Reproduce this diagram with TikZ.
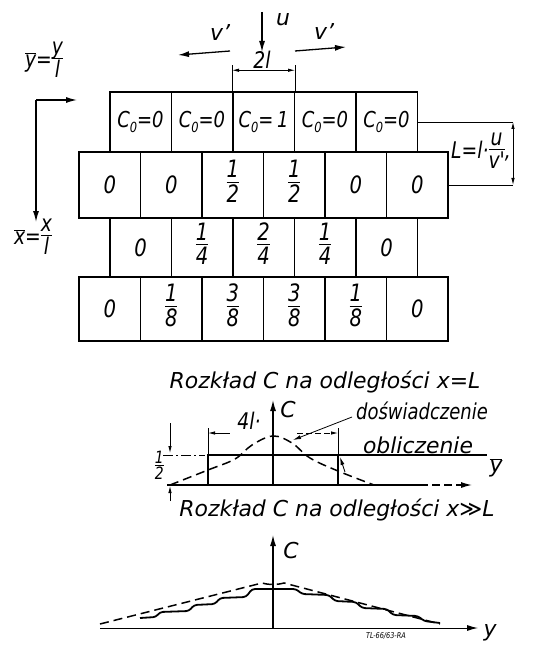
\documentclass[tikz,border=0pt]{standalone}
\usepackage{fontspec}
\setsansfont{DejaVu Sans}[ItalicFont={DejaVu Sans Oblique}]
\newfontfamily\nf{DejaVu Sans}[FakeStretch=0.82, ItalicFont={DejaVu Sans Oblique}]
\usetikzlibrary{arrows.meta}
\newcommand\fr[2]{\begin{tabular}{@{}c@{}}#1\\[-4bp]\hline\noalign{\vskip 1.5bp}#2\end{tabular}}
\newcommand\ob[1]{$\overline{\hbox{#1}}$}
\newcommand\subz[1]{\raisebox{-0.45ex}{\fontsize{14}{14}\selectfont #1}}
\setlength\arrayrulewidth{1.2pt}
\tikzset{
  cell/.style={draw, line width=1.5bp, minimum width=61.5bp, inner sep=0pt,
     font=\fontsize{24}{26}\selectfont\nf\itshape},
  rowa/.style={cell, minimum height=60bp, font=\fontsize{22}{24}\selectfont\nf\itshape},
  rowb/.style={cell, minimum height=66bp},
  rowc/.style={cell, minimum height=59bp},
  rowd/.style={cell, minimum height=64bp},
  arr/.style={-{Latex[length=11bp,width=6bp]}, line width=1.3bp},
  dimarr/.style={{Latex[length=7bp,width=3.5bp]}-{Latex[length=7bp,width=3.5bp]}, line width=0.8bp},
  thinln/.style={line width=0.8bp},
  lbl/.style={inner sep=1bp},
  small/.style={font=\fontsize{23}{25}\selectfont\nf\itshape},
  tiny/.style={font=\fontsize{8}{9}\selectfont\nf\itshape},
  dashcurve/.style={line width=1.5bp, dash pattern=on 9bp off 5bp}
}
\begin{document}
\begin{tikzpicture}[x=1bp,y=-1bp,font=\fontsize{22}{24}\selectfont\sffamily\itshape]
\useasboundingbox (0,0) rectangle (539,646);
% ---- grid ----
\node[rowa] (c11) at (140.5,122) {C\subz0=0};
\node[rowa] (c12) at (202,122) {C\subz0=0};
\node[rowa] (c13) at (263.5,122) {C\subz0=\,1};
\node[rowa] (c14) at (325,122) {C\subz0=0};
\node[rowa] (c15) at (386.5,122) {C\subz0=0};
\node[rowb] (c21) at (109.75,185) {0};
\node[rowb] (c22) at (171.25,185) {0};
\node[rowb] (c23) at (232.75,185) {\fr12};
\node[rowb] (c24) at (294.25,185) {\fr12};
\node[rowb] (c25) at (355.75,185) {0};
\node[rowb] (c26) at (417.25,185) {0};
\node[rowc] (c31) at (140.5,247.5) {0};
\node[rowc] (c32) at (202,247.5) {\fr14};
\node[rowc] (c33) at (263.5,247.5) {\fr24};
\node[rowc] (c34) at (325,247.5) {\fr14};
\node[rowc] (c35) at (386.5,247.5) {0};
\node[rowd] (c41) at (109.75,309) {0};
\node[rowd] (c42) at (171.25,309) {\fr18};
\node[rowd] (c43) at (232.75,309) {\fr38};
\node[rowd] (c44) at (294.25,309) {\fr38};
\node[rowd] (c45) at (355.75,309) {\fr18};
\node[rowd] (c46) at (417.25,309) {0};
% ---- top arrows ----
\coordinate (uS) at (262,12); \coordinate (uE) at (262,52);
\draw[arr] (uS) -- (uE);
\node[lbl] (u) at (283,20) {u};
\coordinate (vlS) at (230,51); \coordinate (vlE) at (178,55);
\draw[arr] (vlS) -- (vlE);
\node[lbl] (vl) at (220,33) {v'};
\coordinate (vrS) at (295,51); \coordinate (vrE) at (346,47);
\draw[arr] (vrS) -- (vrE);
\node[lbl] (vr) at (324,32) {v'};
% 2l dimension
\draw[thinln] (c13.north west) -- ++(0,-26);
\draw[thinln] (c13.north east) -- ++(0,-26);
\draw[dimarr] ([yshift=21bp]c13.north west) -- ([yshift=21bp]c13.north east);
\node[lbl,small] (twol) at (262,60) {2l};
% ---- L dimension ----
\coordinate (Lt) at (513,122); \coordinate (Lb) at (513,185);
\draw[thinln] (c15.east) -- (Lt);
\draw[thinln] (c26.east) -- (Lb);
\draw[dimarr] (Lt) -- (Lb);
\node[lbl,small,anchor=east] (Llab) at (512,152) {L=l·\fr{u}{v'},};
% ---- left axes ----
\coordinate (ax0) at (36,100);
\coordinate (axY) at (77,100);
\coordinate (axX) at (36,222);
\draw[arr] (ax0) -- (axY);
\draw[arr] (ax0) -- (axX);
\node[lbl,small] (ylab) at (44,61) {\ob{y}=\fr{y}{l}};
\node[lbl,small] (xlab) at (33,238) {\ob{x}=\fr{x}{l}};
% ---- plot 1 ----
\node[lbl] (t1) at (325,382) {Rozkład C na odległości x=L};
\coordinate (o1) at (273,485);
\coordinate (h1s) at (167,485); \coordinate (h1m) at (420,485); \coordinate (h1e) at (472,485);
\draw[line width=1.2bp] (h1s) -- (h1m);
\draw[arr, dash pattern=on 8bp off 4bp] (h1m) -- (h1e);
\coordinate (c1e) at (273,400);
\draw[arr] (o1) -- (c1e);
\node[lbl] (C1) at (288,410) {C};
\node[lbl] (yb1) at (496,468) {\ob{y}};
% calculated rectangle
\coordinate (r1) at (208,485); \coordinate (r2) at (208,455);
\coordinate (r3) at (338,455); \coordinate (r4) at (338,485);
\coordinate (r5) at (487,455);
\draw[line width=1.2bp] (r1) -- (r2) -- (r5);
\draw[line width=1.2bp] (r3) -- (r4);
\draw[line width=2.2bp] (280,455) -- (r5);
% 4l dimension
\draw[thinln] (r2) -- (208,428);
\draw[thinln] (r3) -- (338,428);
\draw[thinln,{Latex[length=7bp,width=3.5bp]}-] (208,433) -- (230,433);
\draw[thinln,-{Latex[length=7bp,width=3.5bp]},dash pattern=on 6bp off 3bp] (297,433) -- (338,433);
\node[lbl,small] (fourl) at (249,421) {4l·};
% experiment curve
\draw[dashcurve] plot[smooth, tension=0.6] coordinates {(170,485) (208,470) (235,459) (252,445) (273,436) (292,443) (310,458) (338,471) (374,485)};
% 1/2 dimension
\draw[thinln,-{Latex[length=7bp,width=3.5bp]}] (170,423) -- (170,453);
\draw[thinln,dash pattern=on 10bp off 3bp on 2bp off 3bp] (163,455) -- (205,455);
\draw[thinln,-{Latex[length=7bp,width=3.5bp]}] (170,501) -- (170,486);
\node[lbl,font=\fontsize{17}{17}\selectfont\nf\itshape,anchor=east] (half) at (165,468) {\fr12};
% leaders
\node[lbl,font=\fontsize{22}{24}\selectfont\nf\itshape] (dos) at (422,411) {doświadczenie};
\draw[thinln,-{Latex[length=8bp,width=4bp]}] (352,417) -- (293,440);
\node[lbl,anchor=south] (obl) at (418,455) {obliczenie};
\draw[thinln,-{Latex[length=8bp,width=4bp]}] (345,472) -- (340,457);
% ---- plot 2 ----
\node[lbl] (t2) at (337,510) {Rozkład C na odległości x≫L};
\coordinate (o2) at (273,628);
\coordinate (h2s) at (100,628); \coordinate (h2e) at (478,628);
\draw[arr,line width=1bp] (h2s) -- (h2e);
\coordinate (c2e) at (273,535);
\draw[arr] (o2) -- (c2e);
\node[lbl] (C2) at (291,551) {C};
\node[lbl] (yb2) at (490,633) {y};
\node[lbl,tiny] (ref) at (386,636) {TL-66/63-RA};
\draw[dashcurve] (100,624) -- (262,583) to[out=-14,in=194] (284,583) -- (440,624);
\draw[line width=1.8bp, rounded corners=3bp]
  (140,618) -- (156,617) -- (160,612) -- (189,611) -- (194,605) -- (215,604) -- (220,598) -- (246,597) -- (252,589)
  -- (296,589) -- (302,594) -- (329,595) -- (335,601) -- (356,602) -- (362,608) -- (387,609) -- (393,615) -- (418,616) -- (424,621) -- (440,623);
\draw[line width=2.6bp] (273,592) -- (273,626);
\end{tikzpicture}
\end{document}
